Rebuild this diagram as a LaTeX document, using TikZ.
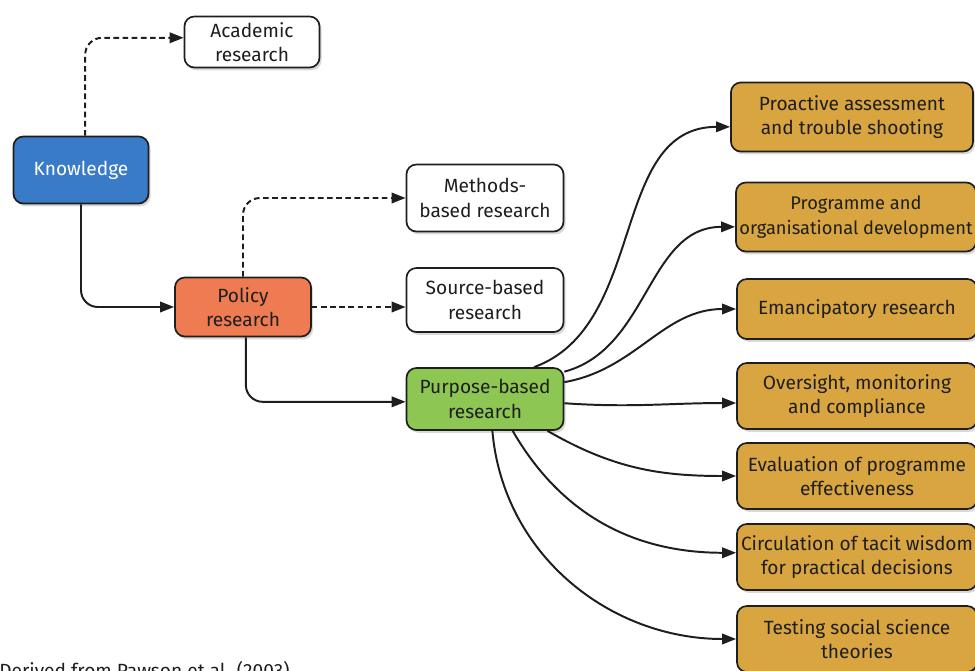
\documentclass[tikz,border=0pt]{standalone}
\usepackage{fontspec}
\setmainfont{Fira Sans}
\usepackage{xcolor}
\usetikzlibrary{arrows.meta,shadows}
\definecolor{kblue}{RGB}{58,123,200}
\definecolor{pred}{RGB}{238,123,82}
\definecolor{pgreen}{RGB}{141,198,83}
\definecolor{pgold}{RGB}{217,165,64}
\definecolor{ink}{RGB}{30,30,30}
\tikzset{ebox/.style={draw=ink, line width=1.2pt, rounded corners=7pt, align=center, text=ink,
    font=\fontsize{13.6}{17.5}\selectfont, inner xsep=1pt,
    drop shadow={shadow xshift=1.5pt, shadow yshift=-2pt, opacity=0.3}}}
\tikzset{gbox/.style={ebox, fill=pgold, minimum width=6cm, minimum height=1.65cm}}
\tikzset{earrow/.style={->, >={Triangle[length=10pt,width=7.5pt]}, line width=1.4pt, draw=ink}}
\tikzset{edash/.style={earrow, dash pattern=on 4pt off 2.5pt}}

\begin{document}
\begin{tikzpicture}[x=0.025cm,y=-0.025cm]
    \useasboundingbox (0,0) rectangle (975,671);
    \node[ebox, fill=kblue, text=white, minimum width=3.375cm, minimum height=1.675cm] (knowledge) at (81,170) {Knowledge};
    \node[ebox, fill=white, minimum width=3.375cm, minimum height=1.275cm] (academic) at (252,42) {Academic\\research};
    \node[ebox, fill=pred, minimum width=3.4cm, minimum height=1.475cm] (policy) at (243,307) {Policy\\research};
    \node[ebox, fill=white, minimum width=3.925cm, minimum height=1.675cm] (methods) at (485,198) {Methods-\\based research};
    \node[ebox, fill=white, minimum width=3.925cm, minimum height=1.6cm] (sourcebased) at (485,300) {Source-based\\research};
    \node[ebox, fill=pgreen, minimum width=3.925cm, minimum height=1.55cm] (purpose) at (485,399) {Purpose-based\\research};

    \node[gbox, minimum width=6.05cm, minimum height=1.725cm] (proactive) at (852,117) {Proactive assessment\\and trouble shooting};
    \node[gbox, minimum height=1.725cm, font=\fontsize{13}{17.5}\selectfont] (programme) at (856,217) {Programme and\\organisational development};
    \node[gbox, minimum height=1.5cm] (emancipatory) at (857,309) {Emancipatory research};
    \node[gbox] (oversight) at (857,396) {Oversight, monitoring\\and compliance};
    \node[gbox] (evaluation) at (857,476) {Evaluation of programme\\effectiveness};
    \node[gbox] (circulation) at (857,557) {Circulation of tacit wisdom\\for practical decisions};
    \node[gbox] (testing) at (857,639) {Testing social science\\theories};

    \node[anchor=north west, inner sep=0pt, text=ink, font=\fontsize{13.6}{17.5}\selectfont] (credit) at (-1,661) {Derived from Pawson et al. (2003)};

    \draw[edash, rounded corners=12pt] ([xshift=3pt]knowledge.north) |- ([yshift=3pt]academic.west);
    \draw[earrow, rounded corners=12pt] (knowledge.south) |- (policy.west);
    \draw[edash, rounded corners=12pt] (policy.north) |- (methods.west);
    \draw[edash] (policy.east) -- (policy.east -| sourcebased.west);
    \draw[earrow, rounded corners=12pt] ([xshift=2pt]policy.south) |- ([yshift=-2pt]purpose.west);

    \draw[earrow] (purpose.33) to[out=20, in=180] ([yshift=-7pt]proactive.west);
    \draw[earrow] (purpose.19) to[out=15, in=180] ([yshift=-7pt]programme.west);
    \draw[earrow] (purpose.12) to[out=10, in=180] (emancipatory.west);
    \draw[earrow] ([yshift=-3pt]purpose.east) to[out=-4, in=180] ([yshift=-5pt]oversight.west);
    \draw[earrow] (purpose.-27) to[out=-30, in=180] (evaluation.west);
    \draw[earrow] (purpose.-49) to[out=-60, in=180] ([yshift=3pt]circulation.west);
    \draw[earrow] (purpose.-77) to[out=-85, in=180] (testing.west);
\end{tikzpicture}
\end{document}
